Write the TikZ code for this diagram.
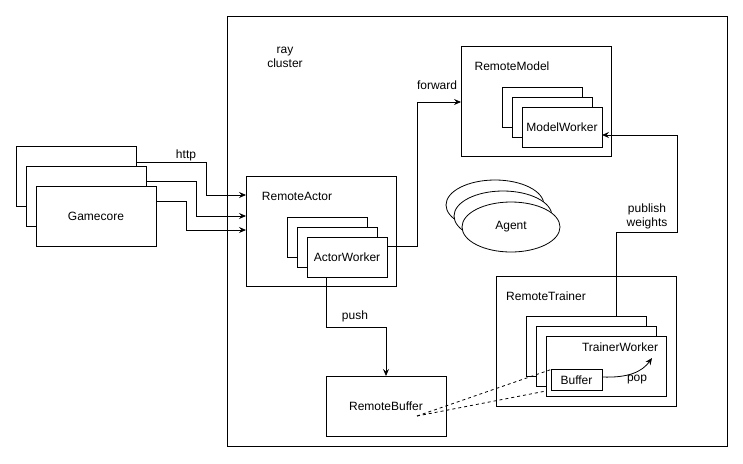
\documentclass[tikz,border=0pt]{standalone}
\usepackage{fontspec}
\setmainfont{Liberation Sans}
\usetikzlibrary{arrows.meta,shapes.geometric}
\begin{document}
\begin{tikzpicture}[x=1pt,y=-1pt,
  every node/.style={font=\fontsize{12pt}{14pt}\selectfont},
  box/.style={draw,fill=white,line width=0.8pt,inner sep=0pt,outer sep=0pt},
  ell/.style={draw,fill=white,ellipse,line width=0.8pt,inner sep=0pt,outer sep=0pt,minimum width=98pt,minimum height=50pt},
  lbl/.style={inner sep=0pt},
  conn/.style={line width=0.8pt},
  arr/.style={conn,-{Stealth[length=7pt,width=6pt,inset=2.5pt]}},
  dashline/.style={conn,dash pattern=on 3pt off 3pt}
]
\useasboundingbox (0,0) rectangle (743,463);
% ray cluster
\node[box,minimum width=500pt,minimum height=430pt] (ray) at (477,231) {};
\node[lbl,align=center] (raylbl) at (285,57) {ray\\cluster};
% gamecore
\node[box,minimum width=120pt,minimum height=60pt] (gc1) at (76,176) {};
\node[box,minimum width=120pt,minimum height=60pt] (gc2) at (86,196) {};
\node[box,minimum width=120pt,minimum height=60pt] (gc3) at (96,216) {Gamecore};
% remote actor
\node[box,minimum width=150pt,minimum height=110pt] (ra) at (321,231) {};
\node[lbl] (ralbl) at (297,196) {RemoteActor};
\node[box,minimum width=80pt,minimum height=40pt] (aw1) at (327,237) {};
\node[box,minimum width=80pt,minimum height=40pt] (aw2) at (337,247) {};
\node[box,minimum width=80pt,minimum height=40pt] (aw3) at (347,257) {ActorWorker};
% remote model
\node[box,minimum width=150pt,minimum height=110pt] (rm) at (536,101) {};
\node[lbl] (rmlbl) at (512,66) {RemoteModel};
\node[box,minimum width=80pt,minimum height=40pt] (mw1) at (542,107) {};
\node[box,minimum width=80pt,minimum height=40pt] (mw2) at (552,117) {};
\node[box,minimum width=80pt,minimum height=40pt] (mw3) at (562,127) {ModelWorker};
% agent
\node[ell] (ag1) at (495,205) {};
\node[ell] (ag2) at (503,216) {};
\node[ell] (ag3) at (511,227) {Agent};
% remote trainer
\node[box,minimum width=180pt,minimum height=130pt] (rt) at (586,341) {};
\node[lbl] (rtlbl) at (546,296) {RemoteTrainer};
\node[box,minimum width=120pt,minimum height=60pt] (tw1) at (586,346) {};
\node[box,minimum width=120pt,minimum height=60pt] (tw2) at (596,356) {};
\node[box,minimum width=120pt,minimum height=60pt] (tw3) at (606,366) {};
\node[lbl] (twlbl) at (620,347) {TrainerWorker};
\node[box,minimum width=51pt,minimum height=21pt] (buf) at (576.5,380) {Buffer};
\node[lbl] (poplbl) at (637,380) {pop};
% remote buffer
\node[box,minimum width=120pt,minimum height=60pt] (rb) at (386,406) {RemoteBuffer};
\coordinate (rbpt) at (417,416);
% connectors
\draw[arr] ([yshift=14pt]gc1.east) -| (206,195) -- (ra.west |- 0,195);
\draw[arr] ([yshift=15pt]gc2.east) -| (196,216) -- (ra.west |- 0,216);
\draw[arr] ([yshift=15pt]gc3.east) -| (186,230) -- (ra.west |- 0,230);
\node[lbl] (httplbl) at (186,155) {http};
\draw[arr] ([yshift=11pt]aw3.east) -| (417,102) -- (rm.west |- 0,102);
\node[lbl] (fwdlbl) at (437,85) {forward};
\draw[arr] ([xshift=-21pt]aw3.south) -- ++(0,50) -| (rb.north);
\node[lbl] (pushlbl) at (355,316) {push};
\draw[arr] ([xshift=30pt]tw1.north) -- (616,232) -| (677,135) -- (mw3.east |- 0,135);
\node[lbl,align=center] (publbl) at (647,216) {publish\\weights};
\coordinate (popend) at (652,358);
\draw[arr] ([yshift=3pt]buf.east) .. controls (628,378) and (642,372) .. (popend);
\draw[dashline] (rbpt) -- (buf.north west);
\draw[dashline] (rbpt) -- (tw3.west |- 0,391);
\end{tikzpicture}
\end{document}
